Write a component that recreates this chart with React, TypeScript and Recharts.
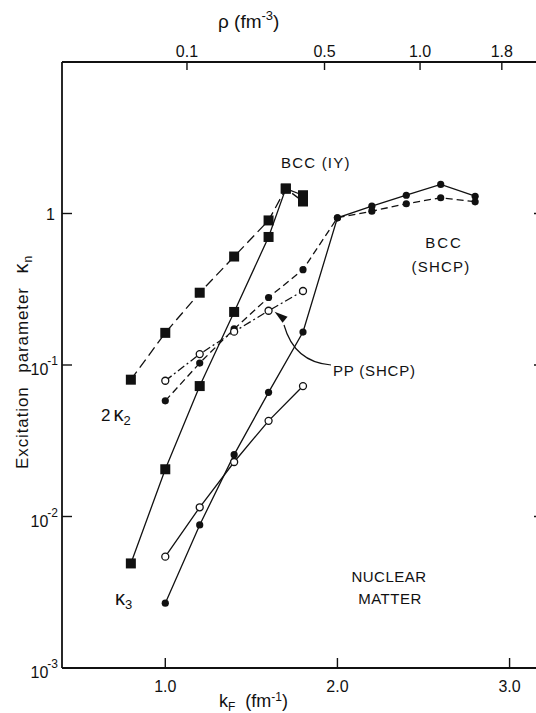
import { LineChart, Line, XAxis, YAxis } from "recharts";

// x positions (k_F in fm^-1) and excitation parameters
const kIY = [0.8, 1.0, 1.2, 1.4, 1.6, 1.7, 1.8];
const twoK2IY = [0.08, 0.163, 0.3, 0.52, 0.9, 1.46, 1.2];
const k3IY = [0.0049, 0.0205, 0.0726, 0.224, 0.7, 1.46, 1.32];

const kBCC = [1.0, 1.2, 1.4, 1.6, 1.8, 2.0, 2.2, 2.4, 2.6, 2.8];
const twoK2BCC = [0.058, 0.103, 0.173, 0.279, 0.426, 0.937, 1.036, 1.16, 1.27, 1.195];
const k3BCC = [0.00268, 0.0088, 0.0256, 0.066, 0.165, 0.937, 1.117, 1.32, 1.556, 1.3];

const kPP = [1.0, 1.2, 1.4, 1.6, 1.8];
const twoK2PP = [0.0787, 0.118, 0.166, 0.228, 0.308];
const k3PP = [0.00543, 0.0115, 0.0229, 0.0428, 0.0726];

const bottomTicks = [1, 2, 3];
const topTickKf = [1.126, 1.925, 2.48, 2.955];
const topTickLabels = ["0.1", "0.5", "1.0", "1.8"];
const yTicks = [0.001, 0.01, 0.1, 1];

const X_DOMAIN = [0.4, 3.2];
const Y_DOMAIN = [0.001, 10];

const W = 560;
const H = 713;
const PLOT_L = 62;
const PLOT_R = 544;
const PLOT_T = 62;
const PLOT_B = 668;
const INK = "#111";
const FONT = "'Liberation Sans', Arial, sans-serif";

const rows = (ks: number[], vs: number[]) => ks.map((k, i) => ({ k, v: vs[i] }));

// same mapping as the chart, used only for the annotation overlay
const sx = (k: number) => PLOT_L + ((k - X_DOMAIN[0]) / (X_DOMAIN[1] - X_DOMAIN[0])) * (PLOT_R - PLOT_L);
const sy = (v: number) => PLOT_T + ((1 - Math.log10(v)) / 4) * (PLOT_B - PLOT_T);

const squareDot = (p: any) => (
  <rect key={`s${p.index}`} x={p.cx - 5} y={p.cy - 5} width={10} height={10} fill={INK} />
);
const filledDot = (p: any) => <circle key={`f${p.index}`} cx={p.cx} cy={p.cy} r={3.6} fill={INK} />;
const openDot = (p: any) => (
  <circle key={`o${p.index}`} cx={p.cx} cy={p.cy} r={3.5} fill="#fff" stroke={INK} strokeWidth={1.3} />
);

function BottomTick({ x, payload }: any) {
  return (
    <g>
      <line x1={x} x2={x} y1={PLOT_B} y2={PLOT_B - 10} stroke={INK} strokeWidth={1.4} />
      <text x={x} y={692} textAnchor="middle" fontSize={16} fontFamily={FONT} fill={INK}>
        {payload.value.toFixed(1)}
      </text>
    </g>
  );
}

function TopTick({ x, payload }: any) {
  const i = topTickKf.indexOf(payload.value);
  return (
    <g>
      <line x1={x} x2={x} y1={PLOT_T} y2={PLOT_T + 8} stroke={INK} strokeWidth={1.4} />
      <text x={x} y={57} textAnchor="middle" fontSize={16} fontFamily={FONT} fill={INK}>
        {topTickLabels[i]}
      </text>
    </g>
  );
}

function LeftTick({ y, payload }: any) {
  const e = Math.round(Math.log10(payload.value));
  return (
    <g>
      <line x1={PLOT_L} x2={PLOT_L + 10} y1={y} y2={y} stroke={INK} strokeWidth={1.4} />
      {e === 0 ? (
        <text x={55} y={y + 6} textAnchor="end" fontSize={16} fontFamily={FONT} fill={INK}>
          1
        </text>
      ) : (
        <text x={58} y={y + 10} textAnchor="end" fontSize={16} fontFamily={FONT} fill={INK}>
          10
          <tspan dx={-1} dy={-10} fontSize={12}>
            {e}
          </tspan>
        </text>
      )}
    </g>
  );
}

function RightTick({ y, payload }: any) {
  if (payload.value < 0.005) return <g />;
  return <line x1={PLOT_R} x2={PLOT_R - 10} y1={y} y2={y} stroke={INK} strokeWidth={1.4} />;
}

function Overlay() {
  const tipX = sx(1.6) + 6;
  const tipY = sy(0.228) + 1;
  const t = { fontFamily: FONT, fill: INK, fontSize: 15 } as const;
  return (
    <svg width={W} height={H} style={{ position: "absolute", left: 0, top: 0, pointerEvents: "none" }}>
      <text {...t} x={218} y={28} fontSize={19}>
        ρ (fm<tspan dy={-8} fontSize={13}>-3</tspan>
        <tspan dy={8}>)</tspan>
      </text>
      <text {...t} x={219} y={707} fontSize={18} wordSpacing={5}>
        k<tspan dy={4} fontSize={12}>F</tspan>
        <tspan dy={-4}>{" (fm"}</tspan>
        <tspan dy={-6} fontSize={12}>-1</tspan>
        <tspan dy={6}>)</tspan>
      </text>
      <text
        {...t}
        x={28}
        y={362}
        fontSize={17}
        textAnchor="middle"
        transform="rotate(-90 28 362)"
        letterSpacing={0.9}
        wordSpacing={8}
      >
        Excitation parameter <tspan fontSize={20}>κ</tspan>
        <tspan dy={4} fontSize={12}>n</tspan>
      </text>

      <text {...t} x={281} y={168} letterSpacing={1.2}>BCC (IY)</text>
      <text {...t} x={444} y={248} textAnchor="middle" letterSpacing={2}>BCC</text>
      <text {...t} x={441} y={272} textAnchor="middle" letterSpacing={1.2}>(SHCP)</text>
      <text {...t} x={333} y={376} letterSpacing={0.8}>PP (SHCP)</text>
      <text {...t} x={101} y={421} fontSize={17}>
        2<tspan dx={3} fontSize={20}>κ</tspan>
        <tspan dy={4} fontSize={13}>2</tspan>
      </text>
      <text {...t} x={115} y={605} fontSize={20}>
        κ<tspan dy={4} fontSize={13}>3</tspan>
      </text>
      <text {...t} x={389} y={582} textAnchor="middle" letterSpacing={0.5}>NUCLEAR</text>
      <text {...t} x={390} y={604} textAnchor="middle" letterSpacing={0.5}>MATTER</text>

      <path
        d={`M 331 365 C 306 363, 291 350, 284 325`}
        fill="none"
        stroke={INK}
        strokeWidth={1.2}
      />
      <polygon
        points={`${tipX},${tipY} ${tipX + 13},${tipY + 5} ${tipX + 8},${tipY + 11}`}
        fill={INK}
      />
    </svg>
  );
}

export default function App() {
  const lineProps = {
    xAxisId: "b",
    yAxisId: "l",
    dataKey: "v",
    stroke: INK,
    strokeWidth: 1.3,
    isAnimationActive: false,
    activeDot: false,
    legendType: "none" as const,
  };
  const axisLine = { stroke: INK, strokeWidth: 1.8 };
  return (
    <div
      style={{
        position: "fixed",
        left: 0,
        top: 0,
        width: 536,
        height: 713,
        overflow: "hidden",
        background: "#fff",
      }}
    >
      <LineChart width={W} height={H} margin={{ top: 0, right: 0, bottom: 0, left: 0 }}>
        <XAxis
          xAxisId="b"
          type="number"
          dataKey="k"
          domain={X_DOMAIN}
          allowDataOverflow
          ticks={bottomTicks}
          interval={0}
          height={H - PLOT_B}
          tickLine={false}
          axisLine={axisLine}
          tick={<BottomTick />}
        />
        <XAxis
          xAxisId="t"
          orientation="top"
          type="number"
          dataKey="k"
          domain={X_DOMAIN}
          allowDataOverflow
          ticks={topTickKf}
          interval={0}
          height={PLOT_T}
          tickLine={false}
          axisLine={axisLine}
          tick={<TopTick />}
        />
        <YAxis
          yAxisId="l"
          scale="log"
          type="number"
          domain={Y_DOMAIN}
          allowDataOverflow
          ticks={yTicks}
          interval={0}
          width={PLOT_L}
          tickLine={false}
          axisLine={axisLine}
          tick={<LeftTick />}
        />
        <YAxis
          yAxisId="r"
          orientation="right"
          scale="log"
          type="number"
          domain={Y_DOMAIN}
          allowDataOverflow
          ticks={yTicks}
          interval={0}
          width={W - PLOT_R}
          tickLine={false}
          axisLine={axisLine}
          tick={<RightTick />}
        />

        {/* invisible series so the top and right axes have something bound to them */}
        <Line
          {...lineProps}
          xAxisId="t"
          yAxisId="r"
          data={rows(kPP, twoK2PP)}
          stroke="none"
          dot={false}
        />

        <Line {...lineProps} data={rows(kIY, twoK2IY)} strokeDasharray="10 5" dot={squareDot} />
        <Line {...lineProps} data={rows(kIY, k3IY)} dot={squareDot} />
        <Line {...lineProps} data={rows(kBCC, twoK2BCC)} strokeDasharray="7 4" dot={filledDot} />
        <Line {...lineProps} data={rows(kBCC, k3BCC)} dot={filledDot} />
        <Line {...lineProps} data={rows(kPP, twoK2PP)} strokeDasharray="8 3 2 3" dot={openDot} />
        <Line {...lineProps} data={rows(kPP, k3PP)} dot={openDot} />
      </LineChart>
      <Overlay />
    </div>
  );
}
